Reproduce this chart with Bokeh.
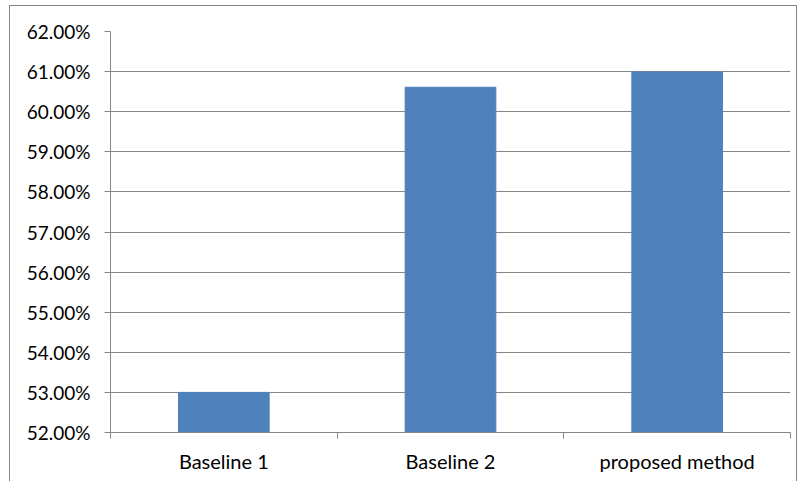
from bokeh.plotting import figure
from bokeh.models import ColumnDataSource, FixedTicker, NumeralTickFormatter, Range1d
from bokeh.embed import file_html
from bokeh.resources import INLINE

categories = ["Baseline 1", "Baseline 2", "proposed method"]
values = [0.5300, 0.6061, 0.6099]
y_ticks = [0.52, 0.53, 0.54, 0.55, 0.56, 0.57, 0.58, 0.59, 0.60, 0.61, 0.62]

positions = [i + 0.5 for i in range(len(categories))]
src = ColumnDataSource(dict(x=positions, top=values, cat=categories))

FONT = "Lato"
GRAY = "#868686"

p = figure(width=786, height=475, output_backend="svg", toolbar_location=None,
           x_range=Range1d(0, len(categories)), y_range=Range1d(y_ticks[0], y_ticks[-1]),
           min_border_left=100, min_border_right=6, min_border_top=25, min_border_bottom=49)
p.frame_width = 680
p.frame_height = 401
p.styles = {"border-left": "1px solid " + GRAY, "border-top": "1px solid " + GRAY,
            "border-right": "1px solid " + GRAY,
            "margin-left": "9px", "margin-top": "5px"}
p.outline_line_color = None
p.background_fill_color = "white"
p.border_fill_color = "white"

p.vbar(x="x", top="top", bottom=y_ticks[0], width=0.4, source=src,
       fill_color="#4F81BD", line_color="#4F81BD")

# y axis
p.yaxis.ticker = FixedTicker(ticks=y_ticks)
p.yaxis.formatter = NumeralTickFormatter(format="0.00%")
p.yaxis.axis_line_color = GRAY
p.yaxis.major_tick_line_color = GRAY
p.yaxis.major_tick_in = 0
p.yaxis.major_tick_out = 6
p.yaxis.minor_tick_line_color = None
p.yaxis.major_label_standoff = 14
p.yaxis.major_label_text_font = FONT
p.yaxis.major_label_text_font_size = "19px"
p.yaxis.major_label_text_color = "black"

# x axis: labels at centres, ticks at boundaries
p.xaxis.ticker = FixedTicker(ticks=positions, minor_ticks=list(range(len(categories) + 1)))
p.xaxis.major_label_overrides = {pos: c for pos, c in zip(positions, categories)}
p.xaxis.major_tick_line_color = None
p.xaxis.minor_tick_line_color = GRAY
p.xaxis.minor_tick_in = 0
p.xaxis.minor_tick_out = 6
p.xaxis.axis_line_color = GRAY
p.xaxis.major_label_standoff = 10
p.xaxis.major_label_text_font = FONT
p.xaxis.major_label_text_font_size = "20px"
p.xaxis.major_label_text_color = "black"

p.xgrid.grid_line_color = None
p.ygrid.grid_line_color = GRAY
p.ygrid.grid_line_alpha = 1.0

open("out.html", "w").write(file_html(p, INLINE))
